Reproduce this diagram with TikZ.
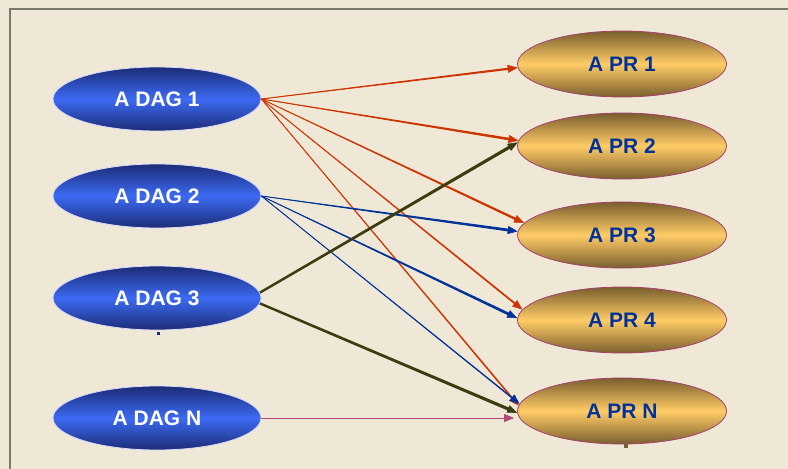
\documentclass[tikz,border=0pt]{standalone}
\usepackage{fontspec}
\setmainfont{Liberation Sans}
\usetikzlibrary{shapes.geometric,arrows.meta,calc}
\definecolor{bg}{RGB}{240,232,214}
\definecolor{framec}{RGB}{122,122,106}
\definecolor{dagmid}{RGB}{60,106,242}
\definecolor{dagout}{RGB}{28,44,118}
\definecolor{prmid}{RGB}{255,204,102}
\definecolor{prout}{RGB}{122,94,46}
\definecolor{prrim}{RGB}{165,65,110}
\definecolor{prtext}{RGB}{0,51,153}
\definecolor{redc}{RGB}{206,52,0}
\definecolor{bluec}{RGB}{0,51,153}
\definecolor{olivec}{RGB}{60,60,16}
\definecolor{pinkc}{RGB}{180,70,120}
\newcommand\taparrow[5]{%
  \fill[#1] ($(#4)!#2!90:(#5)$) -- ($($(#5)!8pt!(#4)$)!#3!-90:(#4)$) -- ($($(#5)!8pt!(#4)$)!#3!90:(#4)$) -- ($(#4)!#2!-90:(#5)$) -- cycle;
  \draw[#1, line width=0.5pt, -{Triangle[length=10pt,width=8pt]}] (#4) -- (#5);}
\tikzset{
  dag/.style={ellipse, minimum width=208pt, minimum height=64pt, inner sep=0pt,
    top color=dagout, bottom color=dagout, middle color=dagmid, draw=white!85!blue, line width=0.8pt,
    text=white, font=\fontsize{21}{24}\selectfont\bfseries},
  pr/.style={ellipse, minimum width=209pt, minimum height=66pt, inner sep=0pt,
    top color=prout, bottom color=prout, middle color=prmid, draw=prrim, line width=0.8pt,
    text=prtext, font=\fontsize{21}{24}\selectfont\bfseries}
}
\begin{document}
\begin{tikzpicture}[x=1pt,y=-1pt]
\fill[bg] (0,0) rectangle (788,469);
\useasboundingbox (0,0) rectangle (788,469);
\draw[framec, line width=2pt] (10,480) -- (10,8.5) -- (800,8.5);

\node[dag] (d1) at (157,99) {A DAG 1};
\node[dag] (d2) at (157,196) {A DAG 2};
\node[dag] (d3) at (157,298) {A DAG 3};
\node[dag] (dn) at (157,418) {A DAG N};

\node[pr] (p1) at (622,64) {A PR 1};
\node[pr] (p2) at (622,146) {A PR 2};
\node[pr] (p3) at (622,235) {A PR 3};
\node[pr] (p4) at (622,320) {A PR 4};
\node[pr] (pn) at (622,411) {A PR N};

\fill[dagout] (156.5,332) rectangle (159.5,335);
\fill[prout] (624,444) rectangle (628,448);

% DAG 1 (red)
\taparrow{redc}{0.4pt}{1.1pt}{d1.east}{p1.182}
\taparrow{redc}{0.4pt}{1.3pt}{d1.east}{p2.177}
\taparrow{redc}{0.4pt}{1.2pt}{d1.east}{p3.173}
\taparrow{redc}{0.4pt}{0.9pt}{d1.east}{p4.174}
\taparrow{redc}{0.4pt}{0.8pt}{d1.east}{pn.177}
% DAG 2 (blue)
\taparrow{bluec}{0.4pt}{1.4pt}{d2.east}{p3.178}
\taparrow{bluec}{0.4pt}{1.4pt}{d2.east}{p4.179}
\taparrow{bluec}{0.4pt}{0.7pt}{d2.east}{pn.176}
% DAG 3 (olive)
\taparrow{olivec}{1.2pt}{1.6pt}{d3.3}{p2.178}
\taparrow{olivec}{1.2pt}{1.6pt}{d3.357}{pn.181}
% DAG N (pink)
\draw[pinkc, line width=0.8pt, -{Triangle[length=10pt,width=8pt]}] (dn.east) -- ([xshift=-3pt]dn.east -| pn.west);
\end{tikzpicture}
\end{document}
